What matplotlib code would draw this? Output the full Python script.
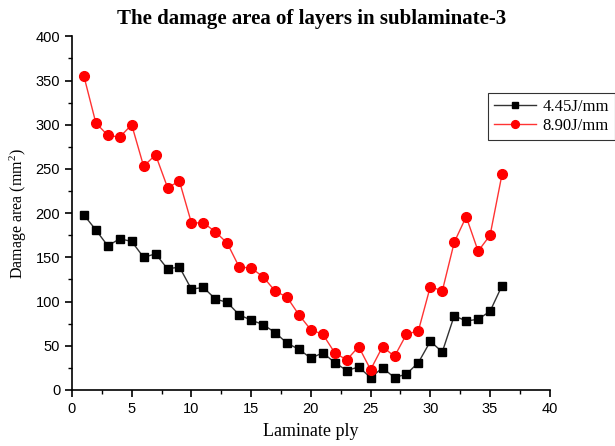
import matplotlib
matplotlib.use("Agg")
import matplotlib.pyplot as plt
from matplotlib.ticker import MultipleLocator

plies = list(range(1, 37))
low_energy = [198, 181, 163, 171, 168, 150, 154, 137, 139, 114, 116, 103, 99, 85, 79, 74,
              65, 53, 46, 36, 42, 31, 22, 26, 14, 25, 14, 18, 31, 55, 43, 84, 78, 80, 89, 118]
high_energy = [355, 302, 288, 286, 300, 253, 266, 229, 236, 189, 189, 179, 166, 139, 138, 128,
               112, 105, 85, 68, 63, 42, 34, 49, 23, 49, 38, 63, 67, 117, 112, 167, 196, 157, 175, 244]
series_labels = ["4.45J/mm", "8.90J/mm"]

plt.rcParams["mathtext.fontset"] = "custom"
plt.rcParams["mathtext.rm"] = "Liberation Serif"
plt.rcParams["mathtext.it"] = "Liberation Serif:italic"
plt.rcParams["mathtext.bf"] = "Liberation Serif:bold"

fig = plt.figure(figsize=(6.15, 4.46), dpi=100)
ax = fig.add_axes([0.117, 0.1256, 0.777, 0.793])

ax.plot(plies, low_energy, color="#333333", lw=1.0, marker="s", ms=6,
        mfc="black", mec="black", label=series_labels[0])
ax.plot(plies, high_energy, color="#ff3333", lw=1.0, marker="o", ms=7,
        mfc="red", mec="red", label=series_labels[1])

ax.set_xlim(0, 40)
ax.set_ylim(0, 400)
ax.xaxis.set_major_locator(MultipleLocator(5))
ax.xaxis.set_minor_locator(MultipleLocator(2.5))
ax.yaxis.set_major_locator(MultipleLocator(50))
ax.yaxis.set_minor_locator(MultipleLocator(25))
for s in ["top", "right"]:
    ax.spines[s].set_visible(False)
for s in ["left", "bottom"]:
    ax.spines[s].set_linewidth(1.2)
ax.tick_params(which="major", direction="out", length=5, width=1.2, labelsize=10.5)
ax.tick_params(which="minor", direction="out", length=3, width=1.0)
for lab in ax.get_xticklabels() + ax.get_yticklabels():
    lab.set_fontfamily("Liberation Sans")

serif = "Liberation Serif"
ax.set_xlabel("Laminate ply", fontfamily=serif, fontsize=13, labelpad=5)
ax.set_ylabel("Damage area (mm$^{\\mathregular{2}}$)", fontfamily=serif, fontsize=11.5, labelpad=5)
fig.text(0.507, 0.958, "The damage area of layers in sublaminate-3", fontfamily=serif,
         fontweight="bold", fontsize=15, ha="center", va="center")

leg = fig.legend(loc="upper left", bbox_to_anchor=(488 / 615, 1 - 93 / 446),
                 frameon=True, fancybox=False, edgecolor="black",
                 prop={"family": serif, "size": 12}, handlelength=2.5, borderaxespad=0,
                 borderpad=0.35, labelspacing=0.2, handletextpad=0.4, markerscale=0.8)
leg.get_frame().set_linewidth(0.8)

fig.savefig("out.png", dpi=100)
